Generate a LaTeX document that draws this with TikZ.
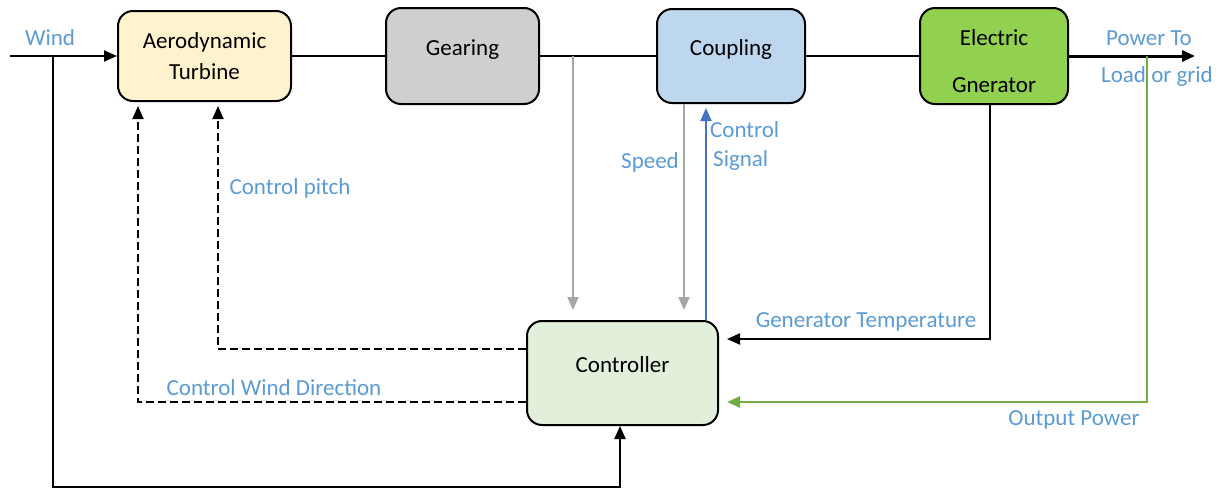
\documentclass[tikz,border=0pt]{standalone}
\usepackage{fontspec}
\setmainfont{Carlito}
\usetikzlibrary{arrows.meta}
\definecolor{lbl}{HTML}{5B9BD5}
\definecolor{turbfill}{HTML}{FFF2CC}
\definecolor{gearfill}{HTML}{D0CECE}
\definecolor{coupfill}{HTML}{BDD7EE}
\definecolor{genfill}{HTML}{92D050}
\definecolor{ctrlfill}{HTML}{E2EFDA}
\definecolor{speedline}{HTML}{A6A6A6}
\definecolor{sigline}{HTML}{4472C4}
\definecolor{pwrline}{HTML}{70AD47}
\begin{document}
\begin{tikzpicture}[x=1pt,y=-1pt,
  box/.style={draw=black, line width=2pt, rounded corners=15pt, align=center,
    inner sep=0pt, font=\fontsize{23}{28}\selectfont},
  wire/.style={line width=2pt},
  dashwire/.style={line width=2pt, dash pattern=on 8pt off 4pt},
  tip/.style={-{Triangle[length=13pt,width=11pt]}},
  lab/.style={text=lbl, inner sep=0pt, font=\fontsize{23}{28}\selectfont}]
\useasboundingbox (0,0) rectangle (1226,488);

% blocks (text lines placed with zero-size boxes so the box outline stays fixed)
\node[box, fill=turbfill, minimum width=173pt, minimum height=90pt] (turb) at (204.5,56) {Aerodynamic\\[3pt]Turbine};
\node[box, fill=gearfill, minimum width=153pt, minimum height=96pt] (gear) at (462.5,56) {\raisebox{1pt}[0pt][0pt]{Gearing}};
\node[box, fill=coupfill, minimum width=148pt, minimum height=94pt] (coup) at (731,56) {\raisebox{1pt}[0pt][0pt]{Coupling}};
\node[box, fill=genfill, minimum width=148pt, minimum height=96pt] (gen) at (994,56) {\raisebox{-36pt}[0pt][0pt]{\begin{tabular}[b]{@{}c@{}}Electric\\[19pt]Gnerator\end{tabular}}};
\node[box, fill=ctrlfill, minimum width=191pt, minimum height=104pt] (ctrl) at (622.5,373) {\raisebox{1pt}[0pt][0pt]{Controller}};

% junction points and free ends
\coordinate (src) at (10,56);
\coordinate (wj) at (53,56);
\coordinate (wb) at (53,487);
\coordinate (gj) at (573,56);
\coordinate (oj) at (1147,56);
\coordinate (out) at (1195,56);
\coordinate (cs) at ([xshift=-47pt]coup.south);
\coordinate (cb) at ([xshift=-25pt]coup.south);
\coordinate (gt) at ([xshift=-4pt]gen.south);
\coordinate (cw) at ([xshift=-2.5pt]ctrl.south);

% main power train
\draw[wire, tip] (src) -- (turb.west);
\draw[wire] (turb.east) -- (gear.west);
\draw[wire] (gear.east) -- (coup.west);
\draw[wire] (coup.east) -- (gen.west);
\draw[line width=3pt, tip] (gen.east) -- (out);

% wind measurement to controller
\draw[wire, tip] (wj) -- (wb) -| (cw);

% pitch and yaw commands
\draw[dashwire, tip, shorten >=4pt] ([yshift=24pt]ctrl.west) -| ([xshift=13.5pt]turb.south);
\draw[dashwire, tip, shorten >=4pt] ([yshift=-29pt]ctrl.west) -| ([xshift=-66.5pt]turb.south);

% speed feedback
\draw[wire, speedline, tip, shorten >=10pt] (gj) -- (gj |- ctrl.north);
\draw[wire, speedline, tip, shorten >=10pt] (cs) -- (cs |- ctrl.north);

% control signal to coupling
\draw[wire, sigline, tip, shorten >=4pt] (cb |- ctrl.north) -- (cb);

% generator temperature
\draw[wire, tip, shorten >=8pt] (gt) |- ([yshift=34pt]ctrl.east);

% output power feedback
\draw[line width=2.5pt, pwrline, tip, shorten >=8pt] (oj) |- ([yshift=-29pt]ctrl.east);

% labels
\node[lab] (lwind) at (50,38) {Wind};
\node[lab] (lpitch) at (290,188) {Control pitch};
\node[lab] (lspeed) at (650,162) {Speed};
\node[lab, align=left, anchor=west] (lsig) at (710,146) {Control\\[1pt]\hspace*{3pt}Signal};
\node[lab] (ltemp) at (866,322) {Generator Temperature};
\node[lab] (lyaw) at (274,388) {Control Wind Direction};
\node[lab] (lout) at (1074,420) {Output Power};
\node[lab] (lpow1) at (1149,38) {Power To};
\node[lab] (lpow2) at (1157,76) {Load or grid};
\end{tikzpicture}
\end{document}
